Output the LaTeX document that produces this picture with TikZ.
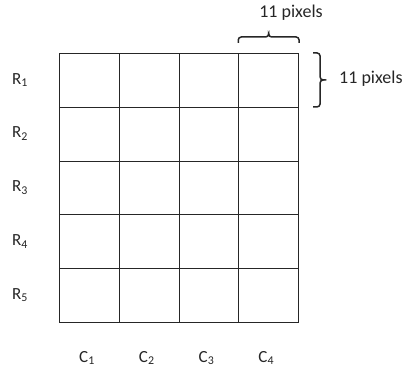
\documentclass[tikz,border=0pt]{standalone}
\usepackage{fontspec}
\setmainfont{Carlito}
\usetikzlibrary{calc}
\begin{document}
\begin{tikzpicture}[x=1pt,y=-1pt,
  cell/.style={draw=black!85, line width=1.1pt, minimum width=59.75pt, minimum height=53.8pt, inner sep=0pt, anchor=north west},
  lab/.style={font=\fontsize{17}{20}\selectfont, inner sep=0pt, text=black!85},
  dimlab/.style={font=\fontsize{18}{22}\selectfont, inner sep=0pt, text=black!85},
  brc/.style={line width=1.5pt, draw=black!85, rounded corners=3pt}]
\useasboundingbox (0,0) rectangle (408,374);
\foreach \i in {1,...,5}{
  \foreach \j in {1,...,4}{
    \node[cell] (c-\i-\j) at ({59+(\j-1)*59.75},{53+(\i-1)*53.8}) {};
  }
}
\foreach \i in {1,...,5}{
  \node[lab] (r\i) at ({20},{80+(\i-1)*53.8}) {R\textsubscript{\i}};
}
\foreach \j in {1,...,4}{
  \node[lab] (col\j) at ({87+(\j-1)*59.75},{358}) {C\textsubscript{\j}};
}
% top brace
\coordinate (tb1) at ([yshift=10pt]c-1-4.north west);
\coordinate (tb2) at ([yshift=10pt]c-1-4.north east);
\coordinate (tbm) at ($(tb1)!0.5!(tb2)$);
\draw[brc] (tb1) -- ++(0,-6) -| ([yshift=8pt]tbm);
\draw[brc] (tb2) -- ++(0,-6) -| ([yshift=8pt]tbm);
\node[dimlab] (toplab) at (291,13) {11 pixels};
% right brace
\coordinate (rb1) at ([xshift=14pt]c-1-4.north east);
\coordinate (rb2) at ([xshift=14pt,yshift=1pt]c-1-4.south east);
\coordinate (rbm) at ($(rb1)!0.5!(rb2)$);
\draw[brc] (rb1) -- ++(7,0) |- ([xshift=9pt]rbm);
\draw[brc] (rb2) -- ++(7,0) |- ([xshift=9pt]rbm);
\node[dimlab, anchor=west] (rightlab) at (339,79) {11 pixels};
\end{tikzpicture}
\end{document}
